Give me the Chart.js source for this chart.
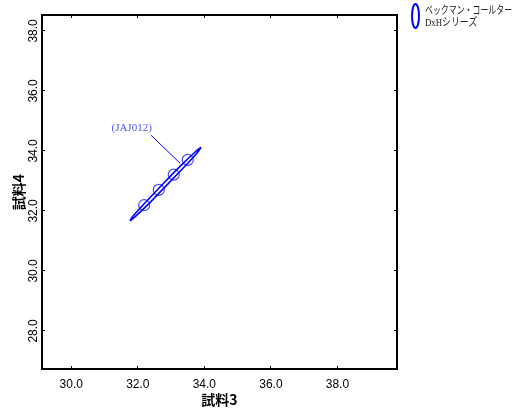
<!DOCTYPE html>
<html>
<head>
<meta charset="utf-8">
<script src="https://cdn.jsdelivr.net/npm/chart.js@4"></script>
<style>
  html, body { margin: 0; padding: 0; background: #fff; }
  #wrap { width: 515px; height: 414px; }
</style>
</head>
<body>
<div id="wrap"><canvas id="myChart" width="515" height="414"></canvas></div>
<script>
// data
const sampleX = [32.19, 32.63, 33.08, 33.50];   // 試料3
const sampleY = [32.19, 32.70, 33.21, 33.70];   // 試料4

// outline of the thin ellipse, read around the shape
const ellipseX = [33.90, 33.78, 33.40, 32.87, 32.34, 31.93, 31.77, 31.89, 32.27, 32.79, 33.33, 33.74, 33.90];
const ellipseY = [34.12, 33.93, 33.47, 32.86, 32.25, 31.82, 31.68, 31.87, 32.33, 32.94, 33.55, 33.98, 34.12];

// leader line for the label
const labelText = '(JAJ012)';
const leaderX = [32.39, 33.27];
const leaderY = [34.53, 33.59];

const xTicks = [30, 32, 34, 36, 38];
const yTicks = [28, 30, 32, 34, 36, 38];
const xRange = [29.12, 39.79];
const yRange = [26.73, 38.53];

const legendLines = ['ベックマン・コールター', 'DxHシリーズ'];

function toPoints(xs, ys) {
    return xs.map(function (x, i) { return { x: x, y: ys[i] }; });
}

const ctx = document.getElementById('myChart');

// y tick labels are drawn rotated, like the original
const yLabelPlugin = {
    id: 'yLabels',
    afterDraw: function (chart) {
        const c = chart.ctx;
        const s = chart.scales.y;
        c.save();
        c.fillStyle = '#000';
        c.font = '12px "Liberation Sans", Arial, sans-serif';
        c.textAlign = 'center';
        c.textBaseline = 'middle';
        yTicks.forEach(function (v) {
            const py = s.getPixelForValue(v);
            c.save();
            c.translate(34, py);
            c.rotate(-Math.PI / 2);
            c.fillText(v.toFixed(1), 0, 0);
            c.restore();
        });
        c.restore();
    }
};

// label text at the start of the leader line, and the legend
const annotPlugin = {
    id: 'annot',
    afterDraw: function (chart) {
        const c = chart.ctx;
        const px = chart.scales.x.getPixelForValue(leaderX[0]);
        const py = chart.scales.y.getPixelForValue(leaderY[0]);
        c.save();
        c.fillStyle = '#5555ff';
        c.font = '11px "Liberation Serif", "DejaVu Serif", serif';
        c.textAlign = 'right';
        c.textBaseline = 'middle';
        c.fillText(labelText, px + 1, py - 7);

        // legend
        c.strokeStyle = '#0000ff';
        c.lineWidth = 2;
        c.beginPath();
        c.ellipse(415.5, 16, 3.5, 12, 0, 0, Math.PI * 2);
        c.stroke();
        c.fillStyle = '#222';
        c.textAlign = 'left';
        c.font = '11px "Liberation Serif", "Noto Sans CJK JP", serif';
        c.save();
        c.translate(425, 0);
        c.scale(0.72, 1);
        c.fillText(legendLines[0], 0, 11);
        c.restore();
        c.translate(425, 0);
        c.scale(0.8, 1);
        c.fillText(legendLines[1], 0, 23);
        c.restore();
    }
};

new Chart(ctx, {
    type: 'scatter',
    data: {
        datasets: [{
            label: 'ellipse',
            data: toPoints(ellipseX, ellipseY),
            showLine: true,
            borderColor: '#0000ff',
            borderWidth: 1.6,
            tension: 0.35,
            pointRadius: 0,
            fill: false
        }, {
            label: 'points',
            data: toPoints(sampleX, sampleY),
            showLine: false,
            pointStyle: 'circle',
            pointRadius: 5.5,
            borderColor: 'rgba(30,30,255,0.8)',
            backgroundColor: 'rgba(0,0,0,0)',
            borderWidth: 1.2
        }, {
            label: 'leader',
            data: toPoints(leaderX, leaderY),
            showLine: true,
            borderColor: '#0000ff',
            borderWidth: 1,
            pointRadius: 0
        }]
    },
    options: {
        responsive: false,
        animation: false,
        layout: { padding: { top: 15, right: 118, left: 0, bottom: 0 } },
        plugins: {
            legend: { display: false },
            tooltip: { enabled: false }
        },
        scales: {
            x: {
                type: 'linear',
                position: 'bottom',
                min: xRange[0],
                max: xRange[1],
                afterFit: function (s) { s.height = 45; },
                afterBuildTicks: function (s) { s.ticks = xTicks.map(function (v) { return { value: v }; }); },
                border: { color: '#000', width: 2 },
                grid: { drawOnChartArea: false, tickLength: -3, color: '#000' },
                ticks: {
                    padding: 11,
                    color: '#000',
                    font: { family: '"Liberation Sans", Arial, sans-serif', size: 12 },
                    maxRotation: 0,
                    callback: function (v) { return Number(v).toFixed(1); }
                },
                title: {
                    display: true,
                    text: '試料3',
                    color: '#000',
                    font: { family: '"Noto Sans CJK JP", sans-serif', size: 14, weight: 'bold' },
                    padding: { top: 0, bottom: 6 }
                }
            },
            y: {
                type: 'linear',
                position: 'left',
                min: yRange[0],
                max: yRange[1],
                afterFit: function (s) { s.width = 42; },
                afterBuildTicks: function (s) { s.ticks = yTicks.map(function (v) { return { value: v }; }); },
                border: { color: '#000', width: 2 },
                grid: { drawOnChartArea: false, tickLength: -3, color: '#000' },
                ticks: { display: false },
                title: {
                    display: true,
                    text: '試料4',
                    color: '#000',
                    font: { family: '"Noto Sans CJK JP", sans-serif', size: 14, weight: 'bold' },
                    padding: { top: 10, bottom: 0 }
                }
            },
            x2: {
                type: 'linear',
                position: 'top',
                min: xRange[0],
                max: xRange[1],
                afterFit: function (s) { s.height = 0; },
                afterBuildTicks: function (s) { s.ticks = xTicks.map(function (v) { return { value: v }; }); },
                border: { color: '#000', width: 2 },
                grid: { drawOnChartArea: false, tickLength: -3, color: '#000' },
                ticks: { display: false }
            },
            y2: {
                type: 'linear',
                position: 'right',
                min: yRange[0],
                max: yRange[1],
                afterFit: function (s) { s.width = 0; },
                afterBuildTicks: function (s) { s.ticks = yTicks.map(function (v) { return { value: v }; }); },
                border: { color: '#000', width: 2 },
                grid: { drawOnChartArea: false, tickLength: -3, color: '#000' },
                ticks: { display: false }
            }
        }
    },
    plugins: [yLabelPlugin, annotPlugin]
});
</script>
</body>
</html>
